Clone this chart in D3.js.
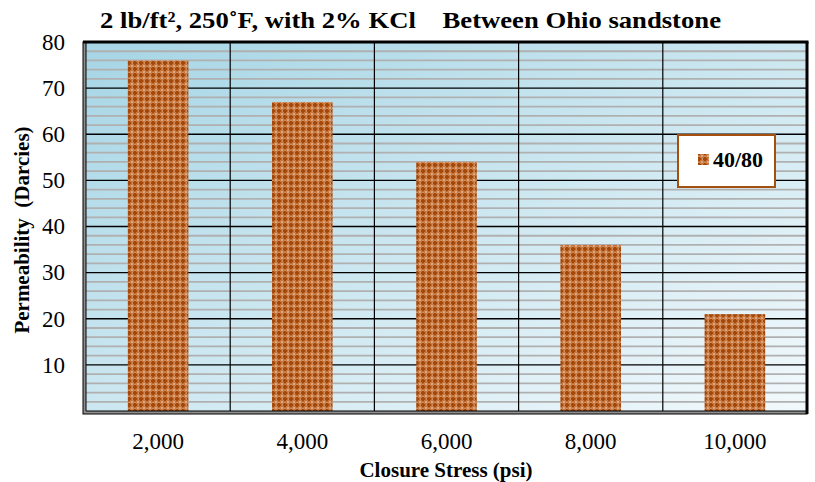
<!DOCTYPE html>
<html>
<head>
<meta charset="utf-8">
<script src="https://cdn.jsdelivr.net/npm/d3@7"></script>
<style>
  body { margin: 0; background: #fff; }
  svg { display: block; }
  text { font-family: "Liberation Serif", "Times New Roman", serif; }
</style>
</head>
<body>
<svg id="chart" width="815" height="482"></svg>
<script>
const stresses = ['2,000', '4,000', '6,000', '8,000', '10,000'];
const permeability = [76, 67, 54, 36, 21];
const yTicks = [10, 20, 30, 40, 50, 60, 70, 80];
const seriesName = '40/80';

const svg = d3.select('#chart');
const plotL = 86, plotR = 807, plotT = 42, plotB = 411;

const x = d3.scaleBand().domain(stresses).range([plotL, plotR])
    .paddingInner(0.58).paddingOuter(0.29);
const y = d3.scaleLinear().domain([0, 80]).range([plotB, plotT]);

const defs = svg.append('defs');

// plot background gradient
let grad = defs.append('linearGradient').attr('id', 'bg')
    .attr('x1', 0).attr('y1', 0).attr('x2', 1).attr('y2', 1);
grad.append('stop').attr('offset', '0%').attr('stop-color', '#a6d5e5');
grad.append('stop').attr('offset', '100%').attr('stop-color', '#f2f9fc');

// checkered brown fill of the bars
let pat = defs.append('pattern').attr('id', 'checks')
    .attr('patternUnits', 'userSpaceOnUse').attr('width', 6).attr('height', 6);
pat.append('rect').attr('width', 6).attr('height', 6).attr('fill', '#c8773f');
pat.append('rect').attr('x', 2).attr('y', 0.8).attr('width', 2).attr('height', 4.4).attr('fill', '#a4480a');
pat.append('rect').attr('x', 0.8).attr('y', 2).attr('width', 4.4).attr('height', 2).attr('fill', '#a4480a');
pat.append('rect').attr('x', -0.6).attr('y', -0.6).attr('width', 1.2).attr('height', 1.2).attr('fill', '#ffffff');
pat.append('rect').attr('x', 5.4).attr('y', -0.6).attr('width', 1.2).attr('height', 1.2).attr('fill', '#ffffff');
pat.append('rect').attr('x', -0.6).attr('y', 5.4).attr('width', 1.2).attr('height', 1.2).attr('fill', '#ffffff');
pat.append('rect').attr('x', 5.4).attr('y', 5.4).attr('width', 1.2).attr('height', 1.2).attr('fill', '#ffffff');
pat.append('rect').attr('x', 2.5).attr('y', 0).attr('width', 1).attr('height', 0.7).attr('fill', '#ecc9aa');
pat.append('rect').attr('x', 0).attr('y', 2.5).attr('width', 0.7).attr('height', 1).attr('fill', '#ecc9aa');

// 3D wall (grey strip at left and bottom)
svg.append('rect')
    .attr('x', plotL - 3).attr('y', plotT).attr('width', plotR - plotL + 3).attr('height', plotB - plotT + 3)
    .attr('fill', '#8f8f8f').attr('stroke', '#000').attr('stroke-width', 1);

svg.append('rect')
    .attr('x', plotL).attr('y', plotT).attr('width', plotR - plotL).attr('height', plotB - plotT)
    .attr('fill', 'url(#bg)');

// minor gridlines every 2
const minor = d3.range(2, 80, 2).filter(v => v % 10 !== 0);
svg.append('g').selectAll('line').data(minor).join('line')
    .attr('x1', plotL).attr('x2', plotR)
    .attr('y1', d => y(d)).attr('y2', d => y(d))
    .attr('stroke', '#b0b0b0').attr('stroke-width', 1.8);

// major gridlines
svg.append('g').selectAll('line').data(yTicks.filter(v => v < 80)).join('line')
    .attr('x1', plotL).attr('x2', plotR)
    .attr('y1', d => y(d)).attr('y2', d => y(d))
    .attr('stroke', '#000').attr('stroke-width', 1.4);

// vertical gridlines at category boundaries
const step = x.step();
svg.append('g').selectAll('line').data(d3.range(1, stresses.length)).join('line')
    .attr('x1', d => plotL + d * step).attr('x2', d => plotL + d * step)
    .attr('y1', plotT).attr('y2', plotB)
    .attr('stroke', '#000').attr('stroke-width', 1.2);

// bars
svg.append('g').selectAll('rect').data(permeability).join('rect')
    .attr('x', (d, i) => x(stresses[i]))
    .attr('width', x.bandwidth())
    .attr('y', d => y(d))
    .attr('height', d => y(0) - y(d))
    .attr('fill', 'url(#checks)');

// frame
svg.append('line').attr('x1', plotL - 3).attr('x2', plotR + 1.5).attr('y1', plotT).attr('y2', plotT)
    .attr('stroke', '#000').attr('stroke-width', 3);
svg.append('line').attr('x1', plotR).attr('x2', plotR).attr('y1', plotT).attr('y2', plotB + 3)
    .attr('stroke', '#000').attr('stroke-width', 3);
svg.append('line').attr('x1', plotL).attr('x2', plotR).attr('y1', plotB).attr('y2', plotB)
    .attr('stroke', '#000').attr('stroke-width', 1);
svg.append('line').attr('x1', plotL).attr('x2', plotL).attr('y1', plotT).attr('y2', plotB)
    .attr('stroke', '#000').attr('stroke-width', 1);

// y tick labels
svg.append('g').selectAll('text').data(yTicks).join('text')
    .attr('x', 65).attr('y', d => y(d))
    .attr('dy', '0.34em')
    .attr('text-anchor', 'end')
    .attr('font-size', 23)
    .text(d => d);

// x tick labels
svg.append('g').selectAll('text').data(stresses).join('text')
    .attr('x', d => x(d) + x.bandwidth() / 2).attr('y', 449)
    .attr('text-anchor', 'middle')
    .attr('font-size', 23)
    .text(d => d);

// title (a little stretched sideways, like the original)
svg.append('text')
    .attr('transform', 'translate(100,28) scale(1.16,1)')
    .attr('font-size', 23).attr('font-weight', 'bold')
    .attr('xml:space', 'preserve')
    .text('2 lb/ft², 250˚F, with 2% KCl    Between Ohio sandstone');

// axis titles
svg.append('text')
    .attr('x', 446).attr('y', 477)
    .attr('text-anchor', 'middle')
    .attr('font-size', 21).attr('font-weight', 'bold')
    .text('Closure Stress (psi)');

svg.append('text')
    .attr('transform', 'translate(29,230) rotate(-90)')
    .attr('text-anchor', 'middle')
    .attr('font-size', 21).attr('font-weight', 'bold')
    .attr('xml:space', 'preserve')
    .text('Permeability  (Darcies)');

// legend
const lg = svg.append('g');
lg.append('rect').attr('x', 678).attr('y', 135).attr('width', 97).attr('height', 52)
    .attr('fill', '#fff').attr('stroke', '#a5500f').attr('stroke-width', 2);
lg.append('rect').attr('x', 698).attr('y', 154).attr('width', 11).attr('height', 11)
    .attr('fill', 'url(#checks)');
lg.append('text').attr('x', 713).attr('y', 167)
    .attr('font-size', 22).attr('font-weight', 'bold')
    .text(seriesName);
</script>
</body>
</html>
